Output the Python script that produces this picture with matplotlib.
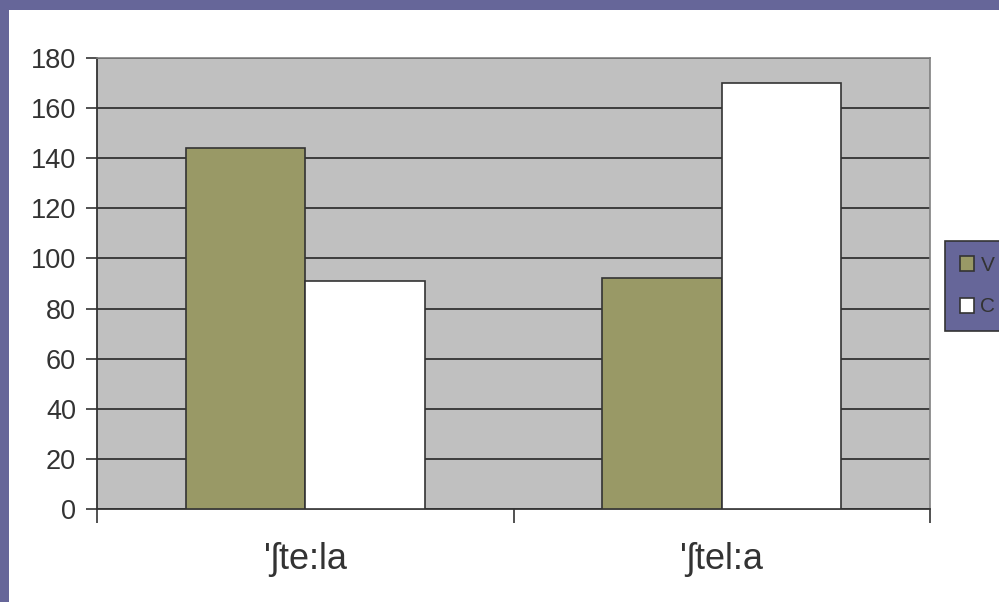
import matplotlib.pyplot as plt
import numpy as np
from matplotlib.patches import Rectangle

plt.rcParams['font.family'] = ['Liberation Sans', 'DejaVu Sans']

categories = ["'ʃte:la", "'ʃtel:a"]
series_names = ["V", "C"]
v_values = [144, 92]
c_values = [91, 170]

PURPLE = "#666699"
OLIVE = "#999966"
PLOT_BG = "#c0c0c0"
INK = "#333333"

fig = plt.figure(figsize=(9.99, 6.02), dpi=100)
fig.patch.set_facecolor("white")
# purple frame strips at top and left
fig.add_artist(Rectangle((0, 1 - 10 / 602), 1, 10 / 602, transform=fig.transFigure,
                         facecolor=PURPLE, edgecolor="none", zorder=0))
fig.add_artist(Rectangle((0, 0), 9 / 999, 1, transform=fig.transFigure,
                         facecolor=PURPLE, edgecolor="none", zorder=0))

ax = fig.add_axes([97 / 999, 93 / 602, 833 / 999, 451 / 602])
ax.set_facecolor(PLOT_BG)

x = np.arange(len(categories))
w = 0.2865
b1 = ax.bar(x - w / 2, v_values, w, color=OLIVE, edgecolor=INK, linewidth=1.2,
            label=series_names[0], zorder=3)
b2 = ax.bar(x + w / 2, c_values, w, color="white", edgecolor=INK, linewidth=1.2,
            label=series_names[1], zorder=3)

ax.set_xlim(-0.5, len(categories) - 0.5)
ax.set_ylim(0, 180)
ax.set_yticks(np.arange(0, 181, 20))
ax.yaxis.grid(True, color=INK, linewidth=1.3, zorder=1)
ax.set_axisbelow(True)

ax.set_xticks(x)
ax.set_xticklabels(categories, fontsize=26, color=INK)
ax.tick_params(axis="x", which="major", length=0, pad=24)
ax.set_xticks(np.arange(-0.5, len(categories), 1.0), minor=True)
ax.tick_params(axis="x", which="minor", length=10, width=1.2, color=INK, direction="out")
ax.tick_params(axis="y", length=8, width=1.2, color=INK, labelsize=19.5,
               labelcolor=INK, pad=7)

for s in ["left", "bottom"]:
    ax.spines[s].set_color(INK)
    ax.spines[s].set_linewidth(1.3)
for s in ["top", "right"]:
    ax.spines[s].set_color("#808080")
    ax.spines[s].set_linewidth(1.2)

leg = fig.legend(handles=[b1, b2], labels=series_names, loc="upper left",
                 bbox_to_anchor=(945 / 999, 1 - 241 / 602), borderaxespad=0,
                 fontsize=15, frameon=True, fancybox=False, handlelength=0.7,
                 handleheight=0.7, handletextpad=0.3, labelspacing=1.1,
                 borderpad=0.7, labelcolor=INK)
leg.get_frame().set_facecolor(PURPLE)
leg.get_frame().set_edgecolor(INK)
leg.get_frame().set_linewidth(1.2)
leg.get_frame().set_alpha(1)

fig.savefig("out.png", dpi=100)
